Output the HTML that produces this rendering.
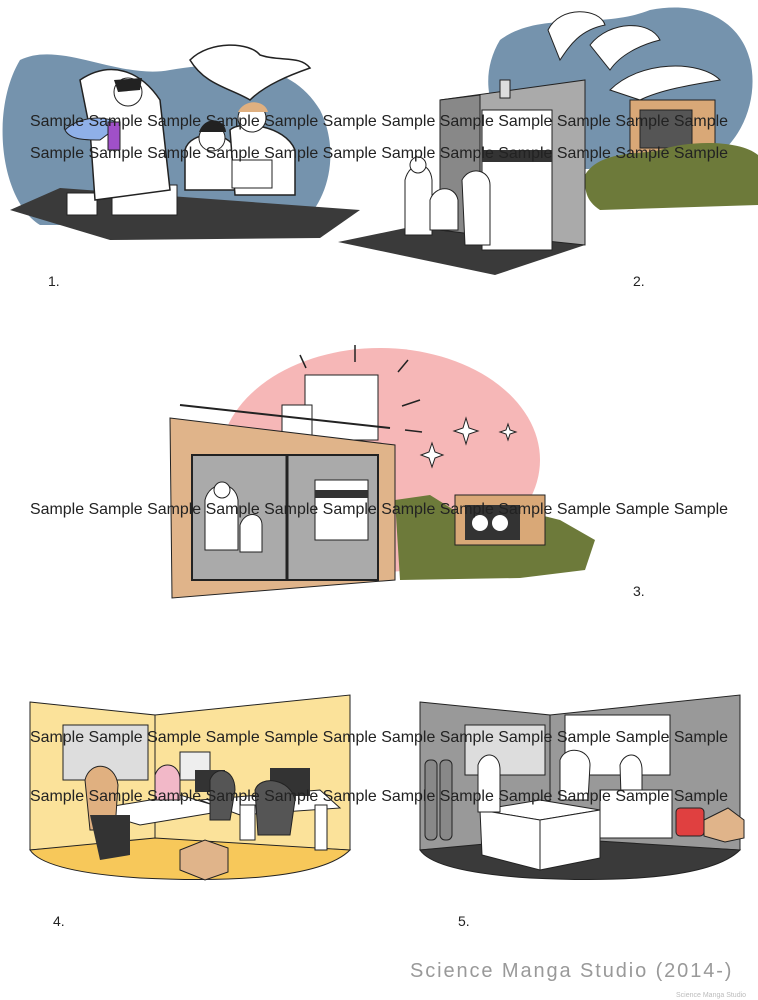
<!DOCTYPE html>
<html><head><meta charset="utf-8"><style>
html,body{margin:0;padding:0;background:#fff;}
body{width:758px;height:1000px;position:relative;overflow:hidden;font-family:"Liberation Sans",sans-serif;}
svg{position:absolute;left:0;top:0;}
</style></head><body>
<svg width="758" height="1000" viewBox="0 0 758 1000">
<!-- Panel 1 -->
<path d="M20,60 C60,40 120,80 170,70 C230,60 290,60 320,110 C340,150 330,200 300,225 L40,225 C0,200 -10,110 20,60Z" fill="#7593ad"/>
<path d="M190,60 C210,40 250,42 260,55 C280,62 300,55 310,68 C290,75 265,85 250,100 C230,88 205,85 190,60Z" fill="#fff" stroke="#222" stroke-width="1.5"/>
<polygon points="10,210 60,188 360,210 320,238 110,240" fill="#3a3a3a"/>
<rect x="67" y="193" width="30" height="22" fill="#fff" stroke="#222"/>
<rect x="112" y="185" width="65" height="30" fill="#fff" stroke="#222"/>
<path d="M80,80 C110,60 140,70 160,100 L170,190 L95,200 L90,130Z" fill="#fff" stroke="#222" stroke-width="1.5"/>
<circle cx="128" cy="92" r="14" fill="#fff" stroke="#222"/>
<path d="M114,80 L142,78 L140,90 L118,92Z" fill="#222"/>
<path d="M65,130 C80,115 110,115 120,125 L100,140 C85,140 70,140 65,130Z" fill="#8fb0e8" stroke="#222"/>
<rect x="108" y="122" width="12" height="28" fill="#a050c8" stroke="#222"/>
<path d="M185,150 C190,130 230,130 235,150 L235,190 L185,190Z" fill="#fff" stroke="#222" stroke-width="1.5"/>
<circle cx="212" cy="138" r="13" fill="#fff" stroke="#222"/><path d="M199,132 C205,115 225,118 226,132Z" fill="#222"/>
<path d="M230,130 C240,120 285,125 295,150 L295,195 L235,195Z" fill="#fff" stroke="#222" stroke-width="1.5"/>
<circle cx="252" cy="118" r="14" fill="#fff" stroke="#222"/><path d="M238,112 C245,98 265,100 268,112Z" fill="#e0b080"/>
<rect x="232" y="160" width="40" height="28" fill="#fff" stroke="#222"/>
<!-- Panel 2 -->
<path d="M500,40 C540,10 600,30 650,10 C700,0 740,20 750,60 C760,100 740,150 700,165 L560,170 C500,150 470,90 500,40Z" fill="#7593ad"/>
<path d="M548,30 C560,5 600,8 605,25 C580,30 570,45 560,60Z" fill="#fff" stroke="#222"/>
<path d="M590,45 C610,20 650,20 660,40 C640,45 620,55 610,70Z" fill="#fff" stroke="#222"/>
<path d="M610,90 C640,60 700,60 720,80 C690,85 660,90 640,100Z" fill="#fff" stroke="#222"/>
<polygon points="630,100 715,100 715,160 630,160" fill="#d9a877" stroke="#222"/>
<rect x="640" y="110" width="52" height="38" fill="#555" stroke="#222"/>
<path d="M585,175 C600,150 640,155 660,150 C690,140 740,140 758,155 L758,205 L600,210 C585,200 585,190 585,175Z" fill="#6d7a3a"/>
<polygon points="338,242 420,225 585,245 495,275" fill="#3a3a3a"/>
<polygon points="440,100 585,80 585,245 440,230" fill="#aaa" stroke="#222"/>
<polygon points="440,100 480,95 480,235 440,230" fill="#888" stroke="#222"/>
<rect x="500" y="80" width="10" height="18" fill="#ddd" stroke="#222"/>
<rect x="482" y="110" width="70" height="140" fill="#fff" stroke="#222"/>
<rect x="482" y="150" width="70" height="12" fill="#333"/>
<path d="M405,180 C410,160 430,160 432,180 L432,235 L405,235Z" fill="#fff" stroke="#222"/>
<circle cx="418" cy="165" r="8" fill="#fff" stroke="#222"/>
<path d="M430,200 C435,185 455,185 458,200 L458,230 L430,230Z" fill="#fff" stroke="#222"/>
<path d="M462,180 C470,165 490,170 490,185 L490,245 L465,245Z" fill="#fff" stroke="#222"/>
<!-- Panel 3 -->
<ellipse cx="380" cy="460" rx="160" ry="112" fill="#f6b7b7"/>
<polygon points="395,500 430,495 470,520 520,510 560,520 595,540 585,570 520,578 400,580" fill="#6d7a3a"/>
<rect x="455" y="495" width="90" height="50" fill="#d9a877" stroke="#222"/>
<rect x="465" y="505" width="55" height="35" fill="#333"/>
<circle cx="480" cy="523" r="8" fill="#fff"/><circle cx="500" cy="523" r="8" fill="#fff"/>
<rect x="305" y="375" width="73" height="65" fill="#fff" stroke="#222"/>
<rect x="282" y="405" width="30" height="30" fill="#fff" stroke="#222"/>
<line x1="180" y1="405" x2="390" y2="428" stroke="#222" stroke-width="2"/>
<polygon points="170,418 395,445 395,580 172,598" fill="#e0b48a" stroke="#222"/>
<rect x="192" y="455" width="186" height="125" fill="#aaa" stroke="#222" stroke-width="2"/>
<line x1="287" y1="455" x2="287" y2="580" stroke="#222" stroke-width="3"/>
<rect x="315" y="480" width="53" height="60" fill="#fff" stroke="#222"/>
<rect x="315" y="490" width="53" height="8" fill="#333"/>
<path d="M205,500 C210,480 235,480 238,500 L238,550 L205,550Z" fill="#fff" stroke="#222"/>
<circle cx="222" cy="490" r="8" fill="#fff" stroke="#222"/>
<path d="M240,525 C245,510 262,512 262,525 L262,552 L240,552Z" fill="#fff" stroke="#222"/>
<g stroke="#222" stroke-width="1.5"><line x1="355" y1="345" x2="355" y2="362"/><line x1="300" y1="355" x2="306" y2="368"/><line x1="408" y1="360" x2="398" y2="372"/><line x1="420" y1="400" x2="402" y2="406"/><line x1="405" y1="430" x2="422" y2="432"/></g>
<g fill="#fff" stroke="#222"><path d="M466,418 L469,428 L478,431 L469,434 L466,444 L463,434 L454,431 L463,428Z"/><path d="M508,424 L510,430 L516,432 L510,434 L508,440 L506,434 L500,432 L506,430Z"/><path d="M432,443 L435,452 L443,455 L435,458 L432,467 L429,458 L421,455 L429,452Z"/></g>
<!-- Panel 4 -->
<polygon points="30,702 155,715 155,840 30,850" fill="#fbe29a" stroke="#222"/>
<polygon points="155,715 350,695 350,850 155,840" fill="#fbe29a" stroke="#222"/>
<path d="M30,850 L155,838 L350,850 C320,880 220,882 140,878 C80,874 40,865 30,850Z" fill="#f7c85a" stroke="#222"/>
<rect x="63" y="725" width="85" height="55" fill="#ddd" stroke="#222"/>
<rect x="180" y="752" width="30" height="28" fill="#eee" stroke="#222"/>
<polygon points="90,810 180,795 230,810 140,825" fill="#fff" stroke="#222"/>
<polygon points="200,800 320,790 340,808 240,815" fill="#fff" stroke="#222"/>
<rect x="240" y="805" width="15" height="35" fill="#fff" stroke="#222"/>
<rect x="315" y="805" width="12" height="45" fill="#fff" stroke="#222"/>
<rect x="195" y="770" width="30" height="22" fill="#333"/><rect x="270" y="768" width="40" height="28" fill="#333"/>
<path d="M85,780 C90,760 115,762 118,785 L115,830 L90,830Z" fill="#e0b080" stroke="#222"/>
<path d="M90,815 L130,815 L130,855 L100,860Z" fill="#333"/>
<path d="M155,775 C160,760 180,762 180,780 L180,800 L155,800Z" fill="#f2b8c8" stroke="#222"/>
<path d="M210,780 C215,765 235,768 235,790 L230,820 L210,820Z" fill="#555" stroke="#222"/>
<path d="M255,790 C260,775 290,778 295,800 L290,835 L258,835Z" fill="#555" stroke="#222"/>
<polygon points="180,850 205,840 228,848 228,872 205,880 180,870" fill="#e0b48a" stroke="#222"/>
<!-- Panel 5 -->
<polygon points="420,702 550,715 550,840 420,850" fill="#999" stroke="#222"/>
<polygon points="550,715 740,695 740,850 550,840" fill="#999" stroke="#222"/>
<path d="M420,850 L550,838 L740,850 C710,880 610,882 530,878 C470,874 430,865 420,850Z" fill="#3a3a3a" stroke="#222"/>
<rect x="465" y="725" width="80" height="50" fill="#ddd" stroke="#222"/>
<rect x="565" y="715" width="105" height="60" fill="#fff" stroke="#222"/>
<rect x="425" y="760" width="12" height="80" rx="5" fill="#888" stroke="#222"/>
<rect x="440" y="760" width="12" height="80" rx="5" fill="#888" stroke="#222"/>
<polygon points="480,810 540,800 600,810 540,820" fill="#fff" stroke="#222"/>
<polygon points="480,810 540,820 540,870 482,855" fill="#fff" stroke="#222"/>
<polygon points="540,820 600,810 600,858 540,870" fill="#fff" stroke="#222"/>
<path d="M478,765 C483,750 500,752 500,770 L500,812 L478,812Z" fill="#fff" stroke="#222"/>
<path d="M560,760 C565,745 590,748 590,765 L588,800 L560,800Z" fill="#fff" stroke="#222"/>
<path d="M620,765 C625,750 642,752 642,770 L642,825 L622,825Z" fill="#fff" stroke="#222"/>
<rect x="600" y="790" width="72" height="48" fill="#fff" stroke="#222"/>
<rect x="676" y="808" width="28" height="28" rx="4" fill="#e04040" stroke="#222"/>
<polygon points="704,820 728,808 744,820 744,838 725,842 704,836" fill="#e0b48a" stroke="#222"/>
<!-- Watermark -->
<g font-family="Liberation Sans, sans-serif" font-size="16" fill="#222">
<text x="30" y="126" textLength="698" lengthAdjust="spacingAndGlyphs">Sample Sample Sample Sample Sample Sample Sample Sample Sample Sample Sample Sample</text>
<text x="30" y="158" textLength="698" lengthAdjust="spacingAndGlyphs">Sample Sample Sample Sample Sample Sample Sample Sample Sample Sample Sample Sample</text>
<text x="30" y="514" textLength="698" lengthAdjust="spacingAndGlyphs">Sample Sample Sample Sample Sample Sample Sample Sample Sample Sample Sample Sample</text>
<text x="30" y="742" textLength="698" lengthAdjust="spacingAndGlyphs">Sample Sample Sample Sample Sample Sample Sample Sample Sample Sample Sample Sample</text>
<text x="30" y="801" textLength="698" lengthAdjust="spacingAndGlyphs">Sample Sample Sample Sample Sample Sample Sample Sample Sample Sample Sample Sample</text>
</g>
<g font-family="Liberation Sans, sans-serif" font-size="14" fill="#222">
<text x="48" y="286">1.</text><text x="633" y="286">2.</text><text x="633" y="596">3.</text><text x="53" y="926">4.</text><text x="458" y="926">5.</text>
</g>
<text x="410" y="977" font-family="Liberation Sans, sans-serif" font-size="20" fill="#999" letter-spacing="1.9">Science Manga Studio (2014-)</text>
<text x="676" y="997" font-family="Liberation Sans, sans-serif" font-size="7" fill="#bbb">Science Manga Studio</text>
</svg>
</body></html>
